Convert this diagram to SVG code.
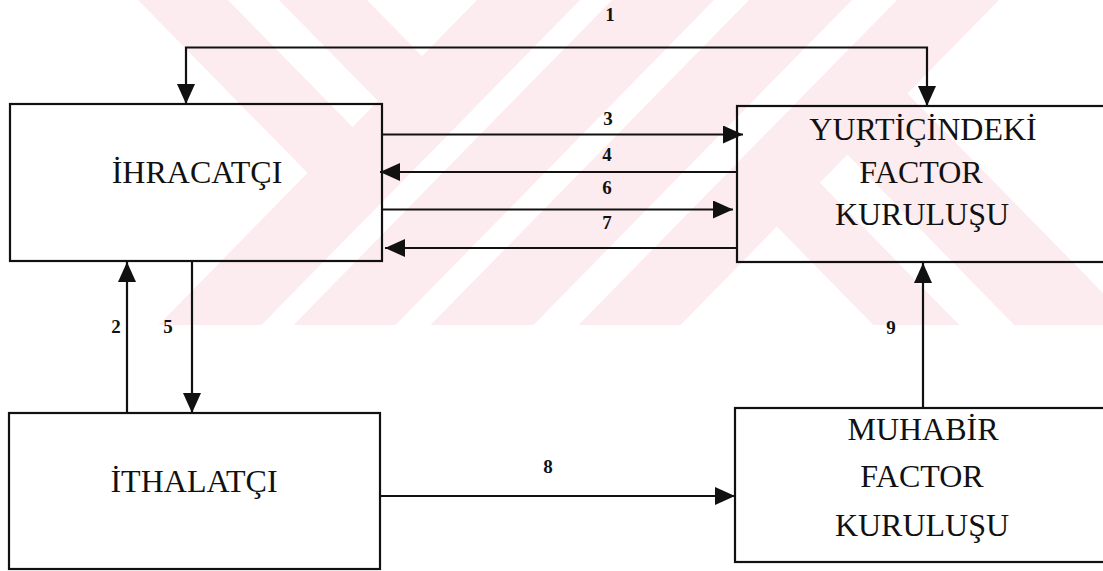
<svg xmlns="http://www.w3.org/2000/svg" width="1103" height="571" viewBox="0 0 1103 571">
<defs>
<style>
.wm{fill:#fdecef;stroke:none}
.box{fill:none;stroke:#111;stroke-width:2.2}
.con{fill:none;stroke:#111;stroke-width:2.2}
.lbl{font-family:"Liberation Serif","Times New Roman",serif;font-size:32px;fill:#111;text-anchor:middle}
.num{font-family:"Liberation Serif","Times New Roman",serif;font-size:19px;font-weight:bold;fill:#111;text-anchor:middle}
</style>
<marker id="ah" markerUnits="userSpaceOnUse" markerWidth="20" markerHeight="18" refX="20" refY="9" orient="auto-start-reverse">
<path d="M0,0 L20,9 L0,18 z" fill="#111"/>
</marker>
<clipPath id="wmclip"><rect x="0" y="0" width="1103" height="325"/></clipPath>
</defs>
<rect x="0" y="0" width="1103" height="571" fill="#ffffff"/>
<g id="watermark" clip-path="url(#wmclip)">
<polygon class="wm" points="477,0 580,0 261.5,325 158.5,325"/>
<polygon class="wm" points="612,0 714,0 395.5,325 293.5,325"/>
<polygon class="wm" points="749,0 852,0 533.5,325 430.5,325"/>
<polygon class="wm" points="897,0 999,0 680.5,325 578.5,325"/>
<polygon class="wm" points="138,0 228,0 404,179.6 359,225.5"/>
<polygon class="wm" points="279,0 367,0 473.5,108.7 429.5,153.6"/>
<polygon class="wm" points="725.9,174.6 768.9,130.7 959.3,325 873.3,325"/>
<polygon class="wm" points="796.4,102.7 856.4,41.4 1134.3,325 1014.3,325"/>
</g>
<g id="ihracatci">
<rect class="box" x="10" y="104" width="372" height="157"/>
<text class="lbl" x="197" y="183">İHRACATÇI</text>
</g>
<g id="yurticindeki">
<rect class="box" x="737" y="106" width="380" height="156"/>
<text class="lbl" x="923" y="140">YURTİÇİNDEKİ</text>
<text class="lbl" x="921" y="183">FACTOR</text>
<text class="lbl" x="922" y="225">KURULUŞU</text>
</g>
<g id="ithalatci">
<rect class="box" x="9" y="413" width="371" height="156"/>
<text class="lbl" x="194" y="492">İTHALATÇI</text>
</g>
<g id="muhabir">
<rect class="box" x="735" y="408" width="380" height="154"/>
<text class="lbl" x="923" y="440">MUHABİR</text>
<text class="lbl" x="922" y="487">FACTOR</text>
<text class="lbl" x="922" y="536">KURULUŞU</text>
</g>
<g id="connectors">
<path class="con" d="M186,104 L186,47.5 L927,47.5 L927,106" marker-start="url(#ah)" marker-end="url(#ah)"/>
<line class="con" x1="382" y1="134.5" x2="743" y2="134.5" marker-end="url(#ah)"/>
<line class="con" x1="737" y1="172" x2="380" y2="172" marker-end="url(#ah)"/>
<line class="con" x1="382" y1="209.5" x2="733" y2="209.5" marker-end="url(#ah)"/>
<line class="con" x1="737" y1="248" x2="385" y2="248" marker-end="url(#ah)"/>
<line class="con" x1="127" y1="413" x2="127" y2="262" marker-end="url(#ah)"/>
<line class="con" x1="192" y1="262" x2="192" y2="413" marker-end="url(#ah)"/>
<line class="con" x1="923" y1="408" x2="923" y2="263" marker-end="url(#ah)"/>
<line class="con" x1="380" y1="496" x2="735" y2="496" marker-end="url(#ah)"/>
<text class="num" x="610" y="21">1</text>
<text class="num" x="608" y="125">3</text>
<text class="num" x="607" y="161">4</text>
<text class="num" x="607" y="194">6</text>
<text class="num" x="607" y="229">7</text>
<text class="num" x="116" y="333">2</text>
<text class="num" x="168" y="333">5</text>
<text class="num" x="891" y="334">9</text>
<text class="num" x="548" y="473">8</text>
</g>
</svg>
